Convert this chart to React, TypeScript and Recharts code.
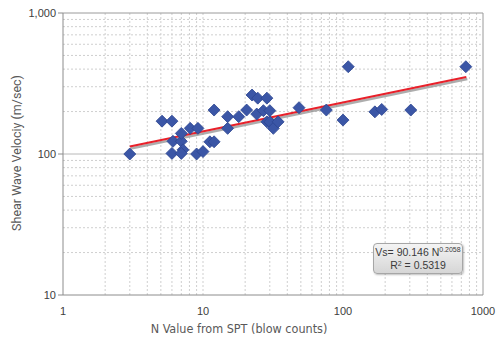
import React from "react";
import {
  ScatterChart,
  Scatter,
  XAxis,
  YAxis,
  ReferenceLine,
  Label,
} from "recharts";

const nValues = [
  3, 5.1, 6, 6.1, 6, 7, 7.2, 7, 7, 8.1, 9.2, 9, 10, 11.2, 12, 12, 15, 15, 18,
  20.5, 22.4, 24.6, 28.6, 24.2, 27, 30, 28.6, 30, 31.8, 34.4, 48.5, 76, 109,
  100, 169, 189, 305, 754,
];
const vsValues = [
  100, 171, 171, 123, 101, 123, 107, 101, 140, 152, 152, 100, 104, 122, 122,
  205, 184, 152, 184, 205, 262, 249, 249, 192, 203, 203, 169, 169, 152, 169,
  213, 205, 416, 174, 199, 207, 205, 416,
];

// power trend line end points
const trendStart = { x: 3, y: 113 };
const trendEnd = { x: 760, y: 352 };

const xTicks = [1, 10, 100, 1000];
const yTicks = [10, 100, 1000];
const xMinor = [2, 3, 4, 5, 6, 7, 8, 9, 20, 30, 40, 50, 60, 70, 80, 90, 200, 300, 400, 500, 600, 700, 800, 900];
const yMinor = [20, 30, 40, 50, 60, 70, 80, 90, 200, 300, 400, 500, 600, 700, 800, 900];

const data = nValues.map((n, i) => ({ n, vs: vsValues[i] }));

const Diamond = (props: any) => {
  const { cx, cy } = props;
  const r = 6;
  return (
    <polygon
      points={`${cx},${cy - r} ${cx + r},${cy} ${cx},${cy + r} ${cx - r},${cy}`}
      fill="#3b56a6"
      stroke="#2c4590"
      strokeWidth={0.8}
    />
  );
};

const ShadowLine = (props: any) => {
  const { x1, y1, x2, y2 } = props;
  return (
    <g>
      <line x1={x1 + 1} y1={y1 + 2} x2={x2 + 1} y2={y2 + 2} stroke="#8a8a8a" strokeWidth={2.5} strokeOpacity={0.7} />
      <line x1={x1} y1={y1} x2={x2} y2={y2} stroke="#e8202a" strokeWidth={2} />
    </g>
  );
};

const tickStyle = { fontFamily: "Liberation Sans, Arial", fontSize: 11, fill: "#404040" };

export default function App() {
  return (
    <div style={{ position: "absolute", left: 0, top: 0, width: 496, height: 340, background: "#fff" }}>
      <ScatterChart width={496} height={340} margin={{ top: 13, right: 13, bottom: 0, left: 0 }}>
        {xMinor.map((v) => (
          <ReferenceLine key={"xm" + v} x={v} stroke="#cfcfcf" strokeDasharray="2 2" />
        ))}
        {yMinor.map((v) => (
          <ReferenceLine key={"ym" + v} y={v} stroke="#cfcfcf" strokeDasharray="2 2" />
        ))}
        <ReferenceLine x={10} stroke="#cfcfcf" strokeDasharray="2 2" />
        <ReferenceLine x={100} stroke="#cfcfcf" strokeDasharray="2 2" />
        <ReferenceLine y={100} stroke="#b8b8b8" />
        <ReferenceLine y={1000} stroke="#9a9a9a" />
        <ReferenceLine x={1000} stroke="#9a9a9a" />
        <XAxis
          dataKey="n"
          type="number"
          scale="log"
          domain={[1, 1000]}
          ticks={xTicks}
          allowDataOverflow
          height={45}
          tick={tickStyle}
          tickLine={false}
          axisLine={{ stroke: "#8c8c8c" }}
          tickMargin={6}
        >
          <Label
            content={() => (
              <text
                x={239}
                y={333}
                textAnchor="middle"
                style={{ fontFamily: "DejaVu Sans Condensed, DejaVu Sans", fontSize: 12.5, fill: "#595959" }}
              >
                N Value from SPT (blow counts)
              </text>
            )}
          />
        </XAxis>
        <YAxis
          dataKey="vs"
          type="number"
          scale="log"
          domain={[10, 1000]}
          ticks={yTicks}
          allowDataOverflow
          width={63}
          tick={tickStyle}
          tickSize={5}
          tickLine={{ stroke: "#8c8c8c" }}
          axisLine={{ stroke: "#8c8c8c" }}
          tickFormatter={(v: number) => v.toLocaleString("en-US")}
        >
          <Label
            content={() => (
              <text
                x={21}
                y={153}
                transform="rotate(-90 21 153)"
                textAnchor="middle"
                style={{ fontFamily: "Roboto", fontSize: 12.5, fill: "#595959" }}
              >
                Shear Wave Velociy (m/sec)
              </text>
            )}
          />
        </YAxis>
        <Scatter data={data} shape={<Diamond />} isAnimationActive={false} />
        <ReferenceLine segment={[trendStart, trendEnd]} shape={(p: any) => <ShadowLine {...p} />} />
      </ScatterChart>
      <div
        style={{
          position: "absolute",
          left: 373,
          top: 243,
          width: 90,
          height: 31,
          border: "1px solid #a6a6a6",
          borderRadius: 4,
          background: "linear-gradient(#f4f4f4, #d6d6d6)",
          boxShadow: "1px 1px 2px rgba(0,0,0,0.25)",
          boxSizing: "border-box",
          fontFamily: "Liberation Sans, Arial",
          fontSize: 10.5,
          color: "#3a3a3a",
          textAlign: "center",
          lineHeight: "13px",
          paddingTop: 2,
          whiteSpace: "nowrap",
        }}
      >
        <div>
          Vs= 90.146 N<sup style={{ fontSize: 7, verticalAlign: "4px", lineHeight: 0 }}>0.2058</sup>
        </div>
        <div>
          R<sup style={{ fontSize: 7, verticalAlign: "3px", lineHeight: 0 }}>2</sup> = 0.5319
        </div>
      </div>
    </div>
  );
}
